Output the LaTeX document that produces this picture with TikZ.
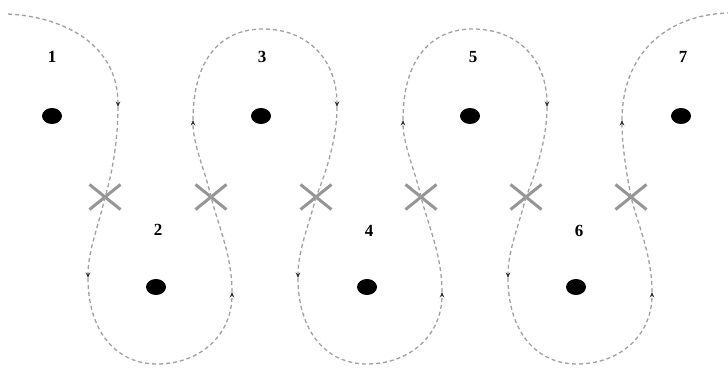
\documentclass[tikz,border=0pt]{standalone}
\usepackage{fontspec}
\setmainfont{Liberation Serif}
\usetikzlibrary{shapes.misc,shapes.geometric,arrows.meta}
\definecolor{trailgray}{RGB}{160,160,160}
\definecolor{crossgray}{RGB}{150,150,150}
\begin{document}
\begin{tikzpicture}[x=1pt,y=-1pt,
  dotmark/.style={ellipse,fill=black,minimum width=20pt,minimum height=16pt,inner sep=0pt},
  crossmark/.style={cross out,draw=crossgray,line width=3pt,minimum width=28pt,minimum height=22pt,inner sep=0pt},
  numlabel/.style={font=\bfseries\fontsize{17}{17}\selectfont,inner sep=0pt},
  trail/.style={draw=trailgray,dash pattern=on 4pt off 3pt,line width=1.3pt},
  arr/.style={-{Stealth[length=5.5pt,width=4.5pt,color=black!80]}}]
\useasboundingbox (0,0) rectangle (728,369);
% dots
\foreach \i/\x/\y in {1/52/116,2/156/287,3/261/116,4/367/287,5/470/116,6/576/287,7/681/116}
  \node[dotmark] (d\i) at (\x,\y) {};
% labels
\foreach \i/\x/\y in {1/52/57,2/158/230,3/262/57,4/369/231,5/473/57,6/579/231,7/683/57}
  \node[numlabel] (n\i) at (\x,\y) {\i};
% crossings
\foreach \i/\x in {1/105,2/211,3/316,4/421,5/526,6/631}
  \node[crossmark] (x\i) at (\x,197) {};
% start and end
\coordinate (s) at (8,14);
\coordinate (r0) at (118,107);
\coordinate (tle) at (622,120);
\coordinate (e) at (728,13);
\draw[trail,arr] (s) .. controls (65,17) and (118,45) .. (r0);
\draw[trail] (r0) .. controls (118,140) and (112,175) .. (x1.center);
\draw[trail,arr] (x6.center) .. controls (626,170) and (622,145) .. (tle);
\draw[trail] (tle) .. controls (622,55) and (665,15) .. (e);
% bottom loops
\foreach \k in {0,1,2}{
  \pgfmathsetmacro\o{210*\k}
  \pgfmathtruncatemacro\a{2*\k+1}
  \pgfmathtruncatemacro\b{2*\k+2}
  \coordinate (bl\k) at (88+\o,278);
  \coordinate (bb\k) at (157+\o,364);
  \coordinate (br\k) at (232+\o,292);
  \draw[trail,arr] (x\a.center) .. controls (99+\o,225) and (88+\o,250) .. (bl\k);
  \draw[trail,arr] (bl\k) .. controls (88+\o,330) and (115+\o,364) .. (bb\k) .. controls (200+\o,364) and (232+\o,335) .. (br\k);
  \draw[trail] (br\k) .. controls (232+\o,255) and (218+\o,225) .. (x\b.center);
}
% top loops
\foreach \k in {0,1}{
  \pgfmathsetmacro\o{210*\k}
  \pgfmathtruncatemacro\b{2*\k+2}
  \pgfmathtruncatemacro\c{2*\k+3}
  \coordinate (tl\k) at (193+\o,120);
  \coordinate (tt\k) at (263+\o,29);
  \coordinate (tr\k) at (337+\o,107);
  \draw[trail,arr] (x\b.center) .. controls (205+\o,170) and (193+\o,145) .. (tl\k);
  \draw[trail,arr] (tl\k) .. controls (193+\o,60) and (220+\o,29) .. (tt\k) .. controls (308+\o,29) and (337+\o,60) .. (tr\k);
  \draw[trail] (tr\k) .. controls (337+\o,140) and (325+\o,175) .. (x\c.center);
}
\end{tikzpicture}
\end{document}
